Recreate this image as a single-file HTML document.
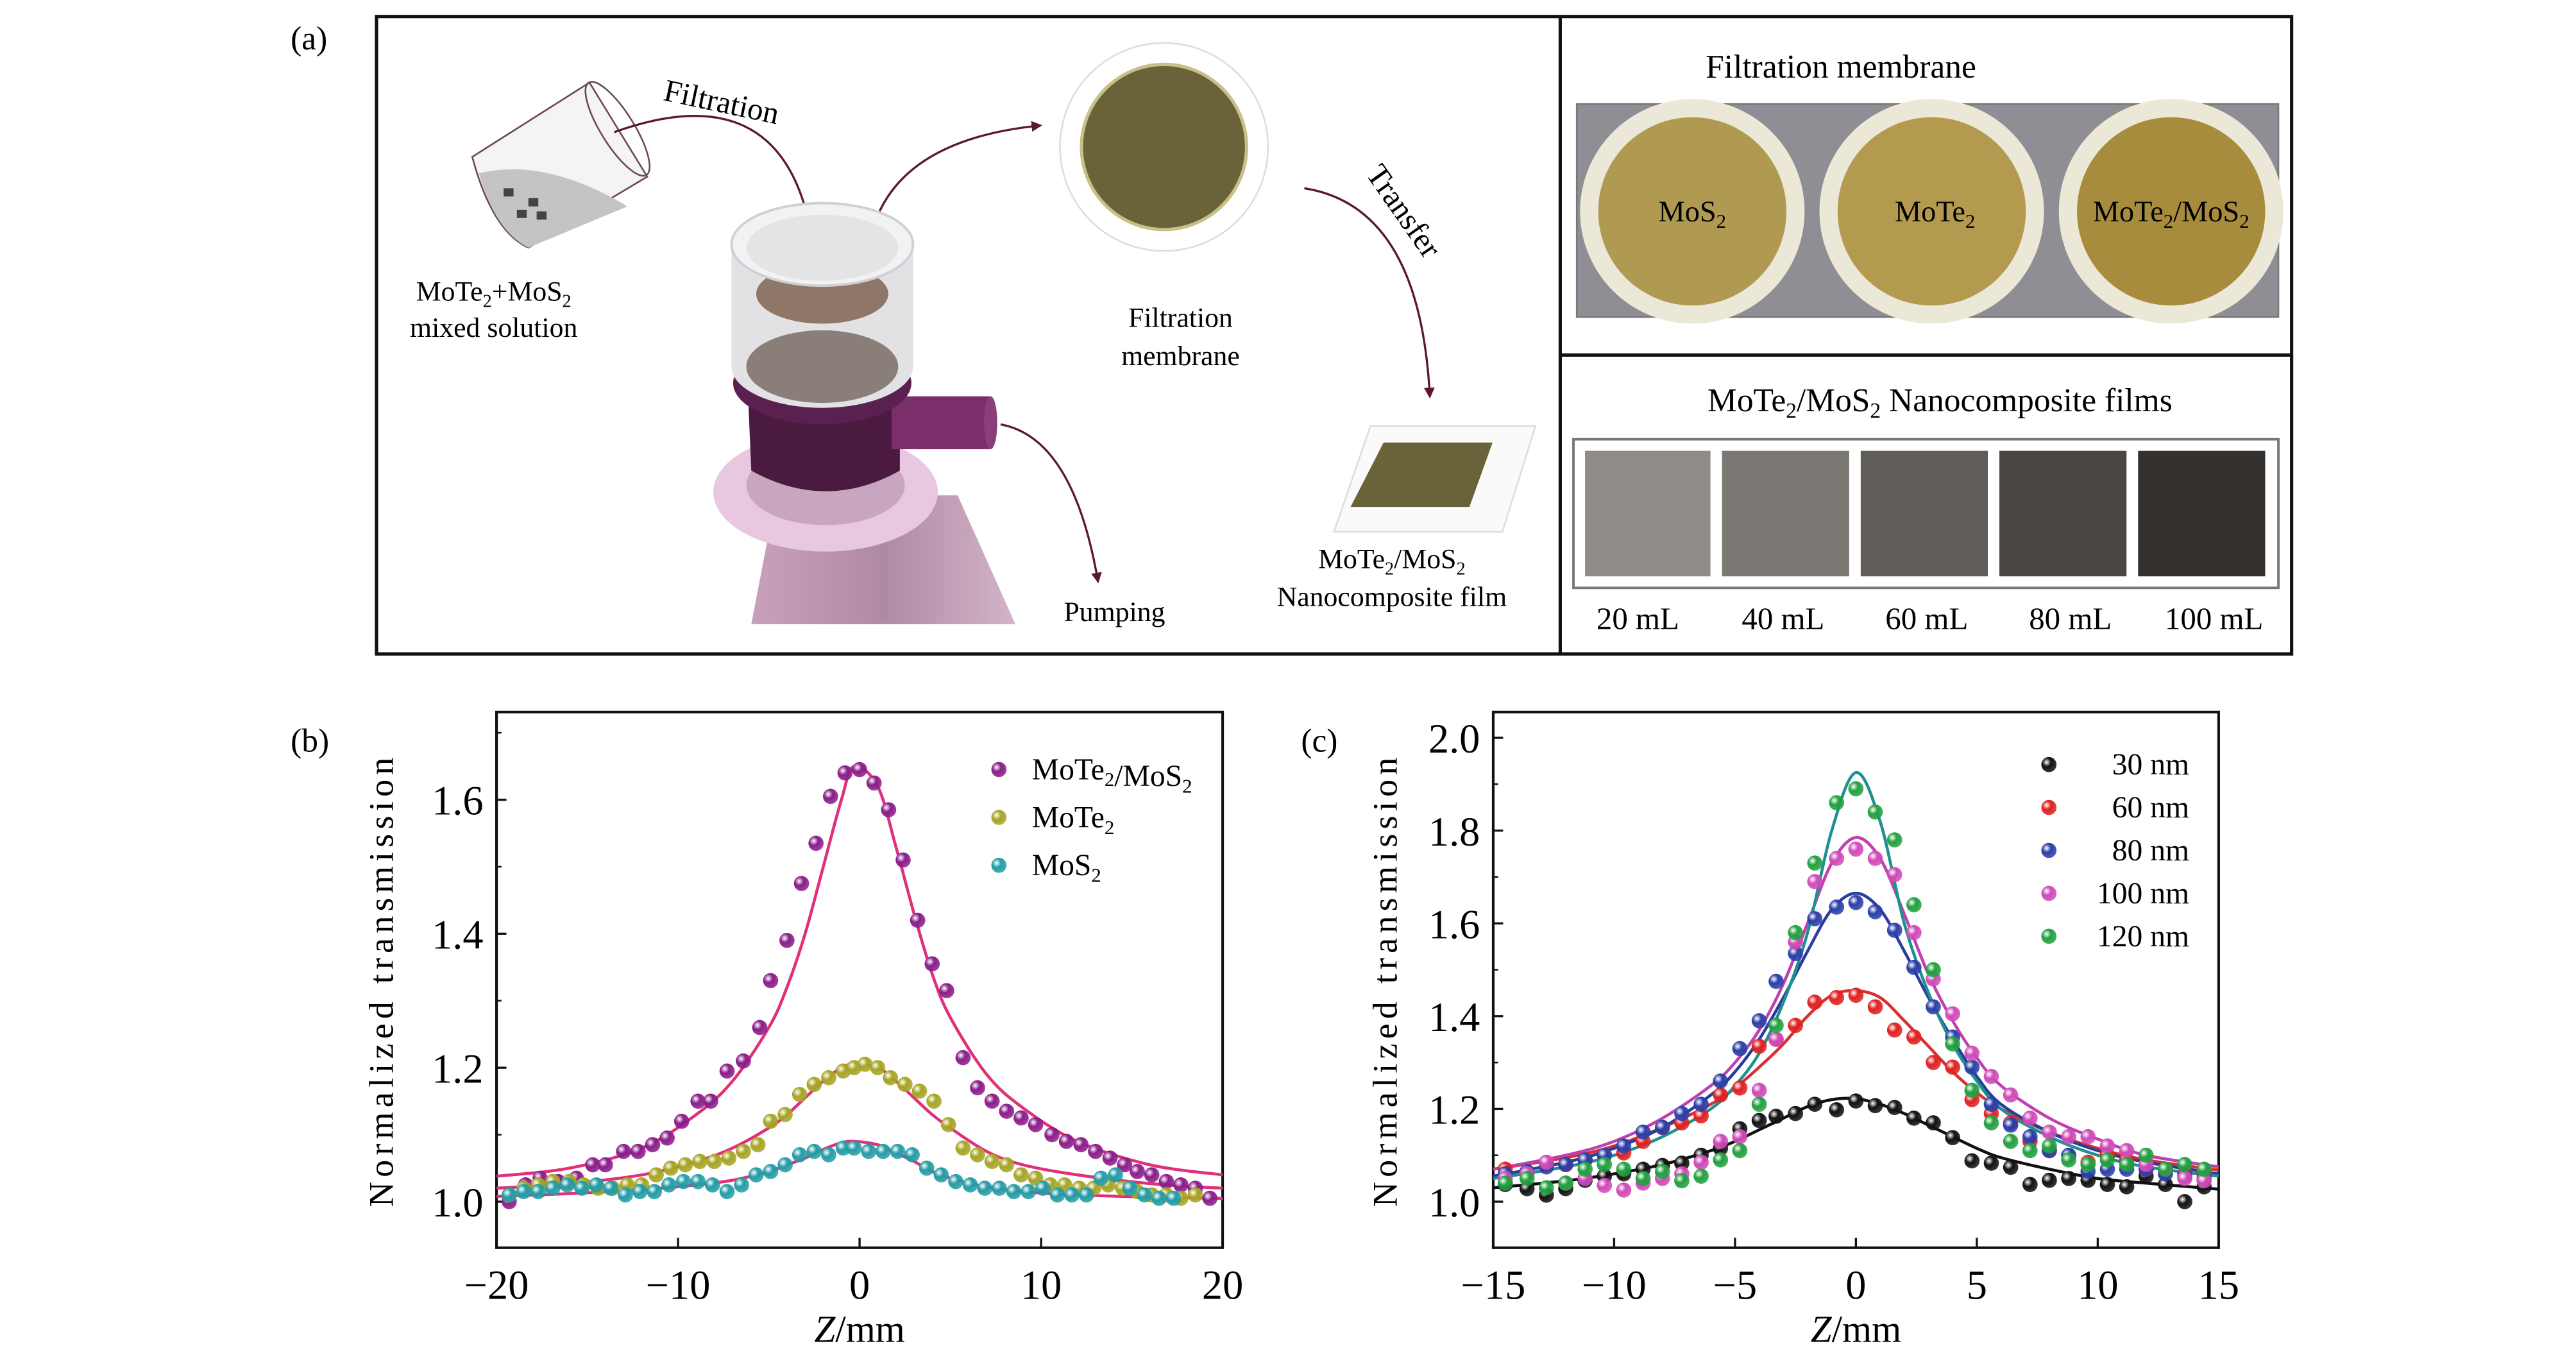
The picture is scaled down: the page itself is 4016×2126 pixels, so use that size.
<!DOCTYPE html>
<html><head><meta charset="utf-8"><style>
html,body{margin:0;padding:0;background:#fff}
svg{display:block;font-family:"Liberation Serif",serif}
</style></head><body>
<svg id="fig" width="4016" height="2126" viewBox="0 0 1560.2 826" xmlns="http://www.w3.org/2000/svg">
<defs>
<marker id="ah" viewBox="0 0 10 10" refX="8" refY="5" markerWidth="5" markerHeight="5" orient="auto"><path d="M0,0 L10,5 L0,10 z" fill="#5a1a2a"/></marker>
<linearGradient id="flask" x1="0" x2="1"><stop offset="0" stop-color="#c8a0bc"/><stop offset="0.5" stop-color="#b08aa4"/><stop offset="1" stop-color="#d2b4c8"/></linearGradient>
</defs>
<!-- panel a -->
<g>
<text x="176" y="30" font-size="20">(a)</text>
<rect x="228" y="10" width="1160" height="386" fill="none" stroke="#111" stroke-width="2"/>
<line x1="945" y1="10" x2="945" y2="396" stroke="#111" stroke-width="2"/>
<line x1="945" y1="215" x2="1388" y2="215" stroke="#111" stroke-width="2"/>
<g>
<path d="M286,95 L357,50 L392,107 L320,150 Q298,140 286,95z" fill="#f4f4f4" stroke="#6b4a4a" stroke-width="1"/>
<path d="M290,105 Q330,95 380,125 L320,150 Q300,140 290,105z" fill="#c4c4c4"/>
<rect x="305" y="114" width="6" height="5" fill="#444"/><rect x="320" y="120" width="6" height="5" fill="#444"/><rect x="313" y="127" width="6" height="5" fill="#444"/><rect x="325" y="128" width="6" height="5" fill="#444"/>
<ellipse cx="374" cy="78" rx="10" ry="33" transform="rotate(-32 374 78)" fill="none" stroke="#6b4a4a" stroke-width="1"/>
</g>
<text x="299" y="182" font-size="17" text-anchor="middle">MoTe<tspan font-size="11" dy="4">2</tspan><tspan dy="-4">+MoS</tspan><tspan font-size="11" dy="4">2</tspan></text>
<text x="299" y="204" font-size="17" text-anchor="middle">mixed solution</text>
<text x="437" y="68" font-size="19" text-anchor="middle" transform="rotate(12 437 62)">Filtration</text>
<path d="M372,80 Q470,45 490,135" fill="none" stroke="#5a1a2a" stroke-width="1.3" marker-end="url(#ah)"/>
<path d="M527,145 Q540,85 630,76" fill="none" stroke="#5a1a2a" stroke-width="1.3" marker-end="url(#ah)"/>
<g>
<path d="M470,300 L580,300 L615,378 L455,378z" fill="url(#flask)"/>
<ellipse cx="500" cy="298" rx="68" ry="36" fill="#e8c8e0"/>
<ellipse cx="500" cy="294" rx="48" ry="24" fill="#c9a6c0"/>
<path d="M452,215 L545,215 L545,285 Q500,310 455,285z" fill="#4a1a40"/>
<rect x="540" y="240" width="60" height="32" fill="#7a2f6a"/>
<ellipse cx="600" cy="256" rx="4" ry="16" fill="#8a3f7a"/>
<ellipse cx="498" cy="232" rx="54" ry="25" fill="#5a2050"/>
<path d="M443,148 L443,222 A55,25 0 0 0 553,222 L553,148z" fill="#e2e2e4"/>
<ellipse cx="498" cy="222" rx="46" ry="22" fill="#8a7e78"/>
<ellipse cx="498" cy="178" rx="40" ry="18" fill="#8f7768"/>
<ellipse cx="498" cy="148" rx="55" ry="25" fill="#f2f2f4" stroke="#d0d0d4" stroke-width="1.5"/>
<ellipse cx="498" cy="150" rx="46" ry="20" fill="#e4e4e6"/>
</g>
<path d="M606,257 Q650,265 665,352" fill="none" stroke="#5a1a2a" stroke-width="1.3" marker-end="url(#ah)"/>
<text x="675" y="376" font-size="17" text-anchor="middle">Pumping</text>
<g>
<circle cx="705" cy="89" r="63" fill="#fff" stroke="#ddd" stroke-width="1"/>
<circle cx="705" cy="89" r="50" fill="#6a6238" stroke="#c8c088" stroke-width="2"/>
</g>
<text x="715" y="198" font-size="17" text-anchor="middle">Filtration</text>
<text x="715" y="221" font-size="17" text-anchor="middle">membrane</text>
<text x="850" y="134" font-size="19" text-anchor="middle" transform="rotate(55 850 128)">Transfer</text>
<path d="M790,114 Q860,125 866,240" fill="none" stroke="#5a1a2a" stroke-width="1.3" marker-end="url(#ah)"/>
<g>
<path d="M830,258 L930,258 L910,322 L808,322z" fill="#fafafa" stroke="#ddd"/>
<path d="M838,268 L904,268 L890,307 L818,307z" fill="#6a6238"/>
</g>
<text x="843" y="344" font-size="17" text-anchor="middle">MoTe<tspan font-size="11" dy="4">2</tspan><tspan dy="-4">/MoS</tspan><tspan font-size="11" dy="4">2</tspan></text>
<text x="843" y="367" font-size="17" text-anchor="middle">Nanocomposite film</text>
<text x="1115" y="47" font-size="20" text-anchor="middle">Filtration membrane</text>
<rect x="955" y="63" width="425" height="129" fill="#8e8e94" stroke="#777"/>
<g>
<circle cx="1025" cy="128" r="68" fill="#ece8d8"/><circle cx="1025" cy="128" r="57" fill="#b09a52"/>
<circle cx="1170" cy="128" r="68" fill="#ece8d8"/><circle cx="1170" cy="128" r="57" fill="#b39a4e"/>
<circle cx="1315" cy="128" r="68" fill="#ece8d8"/><circle cx="1315" cy="128" r="57" fill="#a88c3e"/>
</g>
<text x="1025" y="134" font-size="18" text-anchor="middle">MoS<tspan font-size="12" dy="4">2</tspan></text>
<text x="1172" y="134" font-size="18" text-anchor="middle">MoTe<tspan font-size="12" dy="4">2</tspan></text>
<text x="1315" y="134" font-size="18" text-anchor="middle">MoTe<tspan font-size="12" dy="4">2</tspan><tspan dy="-4">/MoS</tspan><tspan font-size="12" dy="4">2</tspan></text>
<text x="1175" y="249" font-size="20" text-anchor="middle">MoTe<tspan font-size="13" dy="4">2</tspan><tspan dy="-4">/MoS</tspan><tspan font-size="13" dy="4">2</tspan><tspan dy="-4"> Nanocomposite films</tspan></text>
<rect x="953" y="266" width="427" height="90" fill="#fff" stroke="#777" stroke-width="1.5"/>
<g>
<rect x="960" y="273" width="76" height="76" fill="#8f8c87"/>
<rect x="1043" y="273" width="77" height="76" fill="#7b7873"/>
<rect x="1127" y="273" width="77" height="76" fill="#605c58"/>
<rect x="1211" y="273" width="77" height="76" fill="#4a4643"/>
<rect x="1295" y="273" width="77" height="76" fill="#34312f"/>
</g>
<g font-size="19" text-anchor="middle">
<text x="992" y="381">20 mL</text><text x="1080" y="381">40 mL</text><text x="1167" y="381">60 mL</text><text x="1254" y="381">80 mL</text><text x="1341" y="381">100 mL</text>
</g>
</g>
<g id="chartB"></g>
<g id="chartC"></g>
</svg>
<script>
// ---- chart b data ----
const bCategories = ["MoTe2/MoS2","MoTe2","MoS2"];
const bXTicks = [-20,-10,0,10,20];
const bYTicks = [1.0,1.2,1.4,1.6];
const bPurpleZ = [-19.3,-18.4,-17.6,-16.6,-15.6,-14.7,-14.0,-13.0,-12.2,-11.4,-10.6,-9.8,-8.9,-8.2,-7.3,-6.4,-5.5,-4.9,-4.0,-3.2,-2.4,-1.6,-0.8,0,0.8,1.6,2.4,3.2,4.0,4.8,5.7,6.5,7.3,8.1,8.9,9.7,10.6,11.4,12.2,13.0,13.8,14.6,15.3,16.1,16.9,17.7,18.5,19.3];
const bPurpleT = [1.00,1.025,1.035,1.03,1.035,1.055,1.055,1.075,1.075,1.085,1.095,1.12,1.15,1.15,1.195,1.21,1.26,1.33,1.39,1.475,1.535,1.605,1.64,1.645,1.625,1.585,1.51,1.42,1.355,1.315,1.215,1.17,1.15,1.135,1.125,1.115,1.10,1.09,1.085,1.075,1.065,1.055,1.045,1.04,1.03,1.025,1.02,1.005];
const bOliveZ = [-19.3,-18.5,-17.7,-16.9,-16,-15.2,-14.4,-13.6,-12.8,-12,-11.2,-10.4,-9.6,-8.8,-8.0,-7.2,-6.4,-5.6,-4.9,-4.1,-3.3,-2.5,-1.7,-0.9,-0.3,0.3,1.0,1.7,2.5,3.3,4.1,4.9,5.7,6.5,7.3,8.1,8.9,9.7,10.5,11.3,12.1,12.9,13.7,14.5,15.3,16.1,16.9,17.7,18.5];
const bOliveT = [1.01,1.02,1.025,1.03,1.03,1.025,1.02,1.02,1.025,1.025,1.04,1.05,1.055,1.06,1.06,1.065,1.075,1.085,1.12,1.13,1.16,1.175,1.185,1.195,1.2,1.205,1.2,1.185,1.175,1.165,1.15,1.115,1.08,1.07,1.06,1.055,1.04,1.035,1.025,1.025,1.02,1.02,1.025,1.02,1.015,1.01,1.01,1.005,1.01];
const bTealZ = [-19.3,-18.5,-17.7,-16.9,-16.1,-15.3,-14.5,-13.7,-12.9,-12.1,-11.3,-10.5,-9.7,-8.9,-8.1,-7.3,-6.5,-5.7,-4.9,-4.1,-3.3,-2.5,-1.7,-0.9,-0.3,0.5,1.3,2.1,2.9,3.7,4.5,5.3,6.1,6.9,7.7,8.5,9.3,10.1,10.9,11.7,12.5,13.3,14.1,14.9,15.7,16.5,17.3];
const bTealT = [1.01,1.015,1.015,1.02,1.025,1.02,1.025,1.02,1.01,1.015,1.015,1.025,1.03,1.03,1.025,1.015,1.025,1.04,1.045,1.055,1.07,1.075,1.07,1.08,1.08,1.075,1.075,1.075,1.07,1.05,1.04,1.03,1.025,1.02,1.02,1.015,1.015,1.02,1.01,1.01,1.01,1.035,1.04,1.02,1.01,1.005,1.005];
const bFitZ = [-20,-16,-12,-9,-7,-5,-4,-3,-2,-1,-0.3,1,2,3,4,5,7,9,12,16,20];
const bFitPurple = [1.038,1.05,1.08,1.13,1.18,1.26,1.32,1.40,1.50,1.60,1.65,1.62,1.53,1.43,1.34,1.275,1.19,1.14,1.09,1.055,1.04];
const bFitOlive = [1.02,1.027,1.04,1.06,1.08,1.11,1.13,1.155,1.18,1.2,1.205,1.2,1.18,1.155,1.13,1.11,1.075,1.055,1.04,1.027,1.02];
const bFitTeal = [1.008,1.012,1.018,1.025,1.032,1.045,1.055,1.065,1.078,1.088,1.09,1.085,1.073,1.06,1.045,1.035,1.022,1.015,1.01,1.007,1.005];

// ---- chart c data ----
const cCategories = ["30 nm","60 nm","80 nm","100 nm","120 nm"];
const cXTicks = [-15,-10,-5,0,5,10,15];
const cYTicks = [1.0,1.2,1.4,1.6,1.8,2.0];
const cZ = [-14.5,-13.6,-12.8,-12,-11.2,-10.4,-9.6,-8.8,-8,-7.2,-6.4,-5.6,-4.8,-4,-3.3,-2.5,-1.7,-0.8,0,0.8,1.6,2.4,3.2,4,4.8,5.6,6.4,7.2,8,8.8,9.6,10.4,11.2,12,12.8,13.6,14.4];
const c30 = [1.037,1.028,1.014,1.028,1.046,1.055,1.06,1.07,1.078,1.083,1.10,1.115,1.157,1.175,1.184,1.19,1.21,1.198,1.217,1.207,1.203,1.18,1.17,1.138,1.088,1.083,1.074,1.037,1.046,1.05,1.046,1.037,1.032,1.055,1.037,1.0,1.032];
const c60 = [1.07,1.06,1.08,1.08,1.09,1.1,1.105,1.13,1.16,1.17,1.185,1.23,1.245,1.335,1.35,1.38,1.43,1.44,1.445,1.42,1.37,1.355,1.3,1.29,1.22,1.19,1.17,1.13,1.11,1.1,1.085,1.1,1.09,1.07,1.065,1.06,1.06];
const c80 = [1.06,1.065,1.075,1.08,1.09,1.1,1.12,1.15,1.16,1.19,1.21,1.26,1.33,1.39,1.475,1.535,1.61,1.635,1.645,1.625,1.585,1.505,1.42,1.355,1.29,1.21,1.165,1.14,1.11,1.10,1.065,1.07,1.07,1.07,1.06,1.055,1.05];
const c100 = [1.05,1.06,1.085,1.04,1.05,1.035,1.025,1.04,1.05,1.06,1.085,1.13,1.14,1.24,1.35,1.56,1.69,1.74,1.76,1.74,1.705,1.58,1.48,1.405,1.32,1.27,1.23,1.18,1.15,1.14,1.14,1.12,1.11,1.08,1.07,1.05,1.045];
const c120 = [1.04,1.05,1.03,1.04,1.07,1.08,1.07,1.05,1.065,1.045,1.055,1.09,1.11,1.21,1.38,1.58,1.73,1.86,1.89,1.84,1.78,1.64,1.5,1.34,1.24,1.17,1.13,1.11,1.12,1.09,1.08,1.09,1.08,1.1,1.07,1.08,1.07];
const cFitZ = [-15,-12,-10,-8,-6,-5,-4,-3,-2,-1,0,1,2,3,4,5,6,8,10,12,15];
const cFit30 = [1.03,1.045,1.06,1.08,1.11,1.13,1.155,1.18,1.205,1.22,1.222,1.21,1.19,1.165,1.14,1.115,1.095,1.07,1.05,1.04,1.027];
const cFit60 = [1.07,1.095,1.12,1.16,1.21,1.245,1.29,1.34,1.40,1.445,1.455,1.44,1.39,1.335,1.28,1.235,1.2,1.15,1.115,1.09,1.068];
const cFit80 = [1.055,1.085,1.115,1.16,1.23,1.28,1.35,1.44,1.54,1.63,1.665,1.63,1.54,1.44,1.35,1.27,1.21,1.15,1.11,1.085,1.06];
const cFit100 = [1.07,1.1,1.13,1.18,1.25,1.30,1.37,1.47,1.60,1.73,1.785,1.74,1.62,1.49,1.39,1.31,1.25,1.18,1.135,1.10,1.075];
const cFit120 = [1.05,1.075,1.10,1.14,1.2,1.25,1.32,1.43,1.58,1.80,1.925,1.82,1.60,1.45,1.34,1.26,1.2,1.14,1.10,1.075,1.055];

const NS = "http://www.w3.org/2000/svg";
function mk(parent, tag, attrs, text){
  const e = document.createElementNS(NS, tag);
  for (const k in attrs) e.setAttribute(k, attrs[k]);
  if (text !== undefined) e.textContent = text;
  parent.appendChild(e); return e;
}
function smoothPath(pts){
  let d = "M" + pts[0][0] + "," + pts[0][1];
  for (let i=0;i<pts.length-1;i++){
    const p0 = pts[Math.max(0,i-1)], p1 = pts[i], p2 = pts[i+1], p3 = pts[Math.min(pts.length-1,i+2)];
    const c1x = p1[0]+(p2[0]-p0[0])/6, c1y = p1[1]+(p2[1]-p0[1])/6;
    const c2x = p2[0]-(p3[0]-p1[0])/6, c2y = p2[1]-(p3[1]-p1[1])/6;
    d += " C"+c1x+","+c1y+" "+c2x+","+c2y+" "+p2[0]+","+p2[1];
  }
  return d;
}
function makeGrad(id, color){
  const defs = document.querySelector("defs");
  const g = mk(defs, "radialGradient", {id:id, cx:"35%", cy:"35%", r:"65%"});
  mk(g,"stop",{offset:"0","stop-color":"#ffffff"});
  mk(g,"stop",{offset:"0.45","stop-color":color});
  mk(g,"stop",{offset:"1","stop-color":color,"stop-opacity":"0.85"});
}
function drawChart(cfg){
  const g = document.getElementById(cfg.id);
  const X = z => cfg.L + (z - cfg.xMin)/(cfg.xMax - cfg.xMin)*(cfg.R - cfg.L);
  const Y = v => cfg.y0px + (v - cfg.y0)*(cfg.y1px - cfg.y0px)/(cfg.y1 - cfg.y0);
  const frame = mk(g,"rect",{x:cfg.L,y:cfg.T,width:cfg.R-cfg.L,height:cfg.B-cfg.T,fill:"none",stroke:"#111","stroke-width":1.6});
  
  
  mk(g,"text",{x:cfg.labelX,y:cfg.T+24,"font-size":20},cfg.label);
  cfg.xTicks.forEach(t => {
    mk(g,"line",{x1:X(t),x2:X(t),y1:cfg.B,y2:cfg.B-6,stroke:"#111","stroke-width":1.3});
    const tl = mk(g,"text",{x:X(t),y:cfg.B+31,"font-size":25,"text-anchor":"middle"}, t<0 ? "\u2212"+(-t) : String(t));
    
    
  });
  cfg.yTicks.forEach((t,i) => {
    mk(g,"line",{x1:cfg.L,x2:cfg.L+6,y1:Y(t),y2:Y(t),stroke:"#111","stroke-width":1.3});
    const mid = t + (cfg.yTicks[1]-cfg.yTicks[0])/2;
    if (Y(mid) > cfg.T) mk(g,"line",{x1:cfg.L,x2:cfg.L+3,y1:Y(mid),y2:Y(mid),stroke:"#111","stroke-width":1});
    const tl = mk(g,"text",{x:cfg.L-8,y:Y(t)+9,"font-size":25,"text-anchor":"end"}, t.toFixed(1));
    
    
  });
  const xt = mk(g,"text",{x:(cfg.L+cfg.R)/2,y:cfg.B+57,"font-size":23,"text-anchor":"middle"});
  
  
  mk(xt,"tspan",{"font-style":"italic"},"Z");
  mk(xt,"tspan",{},"/mm");
  const yc = (cfg.T+cfg.B)/2;
  const yt = mk(g,"text",{x:cfg.ytX,y:yc,"font-size":21,"text-anchor":"middle","letter-spacing":"2.8",transform:"rotate(-90 "+cfg.ytX+" "+yc+")"},"Normalized transmission");
  
  
  cfg.fits.forEach(f => {
    const pts = f.z.map((z,i)=>[X(z),Y(f.v[i])]);
    const p = mk(g,"path",{d:smoothPath(pts),fill:"none",stroke:f.color,"stroke-width":1.8});
    
    
  });
  cfg.series.forEach((s,si) => {
    makeGrad(cfg.id+"g"+si, s.color);
    s.z.forEach((z,i) => {
      const c = mk(g,"circle",{cx:X(z),cy:Y(s.v[i]),r:4.6,fill:"url(#"+cfg.id+"g"+si+")"});
      
      
    });
    const ly = cfg.legY + si*cfg.legDy;
    const lc = mk(g,"circle",{cx:cfg.legMx,cy:ly,r:4.6,fill:"url(#"+cfg.id+"g"+si+")"});
    
    
    const lt = mk(g,"text",{x:cfg.legTx,y:ly+6,"font-size":18.5,"text-anchor":cfg.legAnchor});
    
    
    if (cfg.subscripts){
      s.label.split("/").forEach((seg,k)=>{
        if(k>0) mk(lt,"tspan",{},"/");
        const m = seg.match(/^(.*?)(\d)$/);
        if (m){ mk(lt,"tspan",{},m[1]); mk(lt,"tspan",{"font-size":12,dy:4},m[2]); mk(lt,"tspan",{dy:-4},""); }
        else mk(lt,"tspan",{},seg);
      });
    } else lt.textContent = s.label;
  });
}
drawChart({id:"chartB",name:"chart-b",label:"(b)",labelX:176,L:300.7,R:740.5,T:431.2,B:755.6,xMin:-20,xMax:20,y0:1.0,y0px:727.7,y1:1.6,y1px:484.3,
  xTicks:bXTicks,yTicks:bYTicks,ytX:238,legMx:605,legTx:625,legY:466,legDy:29,legAnchor:"start",subscripts:true,
  fits:[{name:"mote2-mos2",z:bFitZ,v:bFitPurple,color:"#e0307a"},{name:"mote2",z:bFitZ,v:bFitOlive,color:"#e0307a"},{name:"mos2",z:bFitZ,v:bFitTeal,color:"#e0307a"}],
  series:[{name:"mote2-mos2",label:bCategories[0],z:bPurpleZ,v:bPurpleT,color:"#8a1d8a"},{name:"mote2",label:bCategories[1],z:bOliveZ,v:bOliveT,color:"#a6a424"},{name:"mos2",label:bCategories[2],z:bTealZ,v:bTealT,color:"#249ca6"}]});
drawChart({id:"chartC",name:"chart-c",label:"(c)",labelX:788,L:904.4,R:1343.8,T:431.2,B:755.6,xMin:-15,xMax:15,y0:1.0,y0px:727.7,y1:2.0,y1px:446.8,
  xTicks:cXTicks,yTicks:cYTicks,ytX:846,legMx:1241,legTx:1326,legY:463,legDy:26,legAnchor:"end",subscripts:false,
  fits:[{name:"30nm",z:cFitZ,v:cFit30,color:"#111"},{name:"60nm",z:cFitZ,v:cFit60,color:"#d83030"},{name:"80nm",z:cFitZ,v:cFit80,color:"#2c3c9c"},{name:"100nm",z:cFitZ,v:cFit100,color:"#c040b0"},{name:"120nm",z:cFitZ,v:cFit120,color:"#1f9090"}],
  series:[{name:"30nm",label:cCategories[0],z:cZ,v:c30,color:"#111111"},{name:"60nm",label:cCategories[1],z:cZ,v:c60,color:"#e02020"},{name:"80nm",label:cCategories[2],z:cZ,v:c80,color:"#2b3fa8"},{name:"100nm",label:cCategories[3],z:cZ,v:c100,color:"#d04ab8"},{name:"120nm",label:cCategories[4],z:cZ,v:c120,color:"#22a040"}]});
</script>
</body></html>
